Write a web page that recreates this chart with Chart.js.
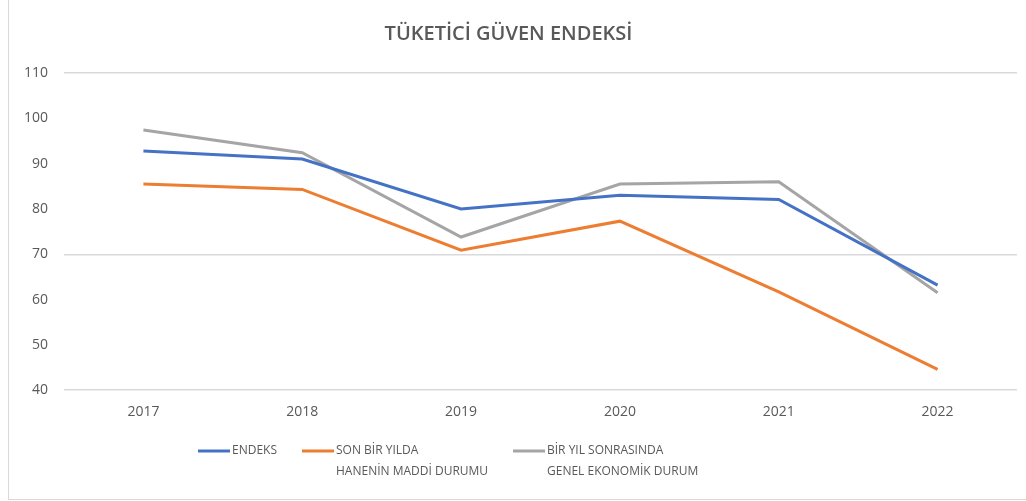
<!DOCTYPE html>
<html>
<head>
  <title>Tüketici Güven Endeksi</title>
  <script src="https://cdn.jsdelivr.net/npm/chart.js"></script>
  <style>
    body { margin: 0; background: #fff; }
    #wrap { position: relative; width: 1026px; height: 501px; }
    #frame { position: absolute; left: 8px; top: 0; width: 1018px; height: 499px;
             border-left: 1px solid #d9d9d9; border-bottom: 1px solid #d9d9d9; }
  </style>
</head>
<body>
  <div id="wrap">
    <div id="frame"></div>
    <canvas id="chart" width="1026" height="501"></canvas>
  </div>

  <script>
    const years = ['2017', '2018', '2019', '2020', '2021', '2022'];
    const endeks = [92.8, 91.0, 80.0, 83.0, 82.1, 63.2];
    const maddiDurum = [85.5, 84.3, 70.9, 77.3, 61.7, 44.6];
    const genelDurum = [97.4, 92.4, 73.8, 85.5, 86.0, 61.5];
    const legendNames = [
      ['ENDEKS'],
      ['SON BİR YILDA', 'HANENİN MADDİ DURUMU'],
      ['BİR YIL SONRASINDA', 'GENEL EKONOMİK DURUM']
    ];
    const gridAt = [40, 70, 110];

    const textColor = '#595959';
    const fontFamily = '"Open Sans", "Liberation Sans", sans-serif';

    // legend drawn by hand because the labels wrap onto two lines
    const legendPlugin = {
      id: 'twoLineLegend',
      afterDraw(chart) {
        const ctx = chart.ctx;
        const xs = [198, 302, 513];
        const y = 451;
        ctx.save();
        ctx.font = '12px ' + fontFamily;
        ctx.textBaseline = 'middle';
        ctx.fillStyle = textColor;
        chart.data.datasets.forEach((ds, i) => {
          ctx.strokeStyle = ds.borderColor;
          ctx.lineWidth = 3;
          ctx.beginPath();
          ctx.moveTo(xs[i], y);
          ctx.lineTo(xs[i] + 32, y);
          ctx.stroke();
          legendNames[i].forEach((line, j) => {
            ctx.fillText(line, xs[i] + 34, y + j * 21);
          });
        });
        ctx.restore();
      }
    };

    new Chart(document.getElementById('chart'), {
      type: 'line',
      data: {
        labels: years,
        datasets: [
          { label: 'ENDEKS', data: endeks, borderColor: '#4472C4' },
          { label: 'SON BİR YILDA HANENİN MADDİ DURUMU', data: maddiDurum, borderColor: '#ED7D31' },
          { label: 'BİR YIL SONRASINDA GENEL EKONOMİK DURUM', data: genelDurum, borderColor: '#A5A5A5' }
        ]
      },
      options: {
        responsive: false,
        animation: false,
        elements: {
          line: { borderWidth: 3, tension: 0 },
          point: { radius: 0 }
        },
        layout: { padding: { left: 0, right: 9, top: 0, bottom: 76 } },
        plugins: {
          legend: { display: false },
          tooltip: { enabled: false },
          title: {
            display: true,
            text: 'TÜKETİCİ GÜVEN ENDEKSİ',
            color: textColor,
            font: { family: fontFamily, size: 20, weight: '600' },
            padding: { top: 22, bottom: 27 }
          }
        },
        scales: {
          x: {
            offset: true,
            grid: { display: false },
            border: { display: false },
            ticks: { color: textColor, font: { family: fontFamily, size: 14 }, padding: 5 }
          },
          y: {
            min: 40,
            max: 110,
            afterFit(scale) { scale.width = 64; },
            grid: {
              drawTicks: false,
              color: ctx => gridAt.includes(ctx.tick && ctx.tick.value) ? '#d9d9d9' : 'rgba(0,0,0,0)',
              lineWidth: 1.5
            },
            border: { display: false },
            ticks: { stepSize: 10, color: textColor, font: { family: fontFamily, size: 14 }, padding: 16 }
          }
        }
      },
      plugins: [legendPlugin]
    });
  </script>
</body>
</html>
